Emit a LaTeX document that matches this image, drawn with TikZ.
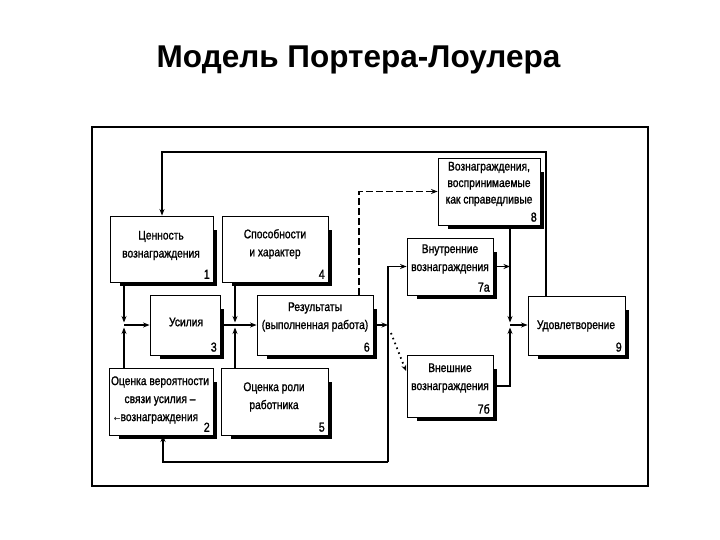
\documentclass[tikz,border=0pt]{standalone}
\usepackage{fontspec}
\setmainfont{Liberation Sans}
\newfontfamily\boxfont[FakeStretch=0.82,FakeBold=1.2]{Liberation Sans}
\newfontfamily\symfont{DejaVu Sans}
\usetikzlibrary{arrows.meta,calc}
\tikzset{
  box/.style={draw, line width=0.9pt, fill=white, inner sep=0pt},
  shadowfill/.style={fill=black},
  txt/.style={align=center, inner sep=0pt, font=\boxfont\fontsize{12.5}{18}\selectfont},
  num/.style={anchor=south east, inner sep=3.5pt, font=\boxfont\fontsize{13}{14}\selectfont},
  conn/.style={line width=1.1pt},
  arr/.style={conn, -{Stealth[length=6.5pt,width=5pt]}},
  dashconn/.style={arr, dash pattern=on 7pt off 3pt},
  dotconn/.style={line width=1.8pt, dash pattern=on 1.6pt off 3.6pt, -{Stealth[length=6pt,width=5pt]}},
  titlestyle/.style={font=\bfseries\fontsize{31.5}{36}\selectfont, inner sep=0pt}
}
\newcommand\mkbox[6]{%
  \fill[shadowfill] ({#2+10},{#3+14}) rectangle ({#4+4},{#5+4});
  \node[box, minimum width={#4-#2}, minimum height={#5-#3}] (#1) at ({(#2+#4)/2},{(#3+#5)/2}) {};
  \node[num] (#1n) at (#1.south east) {#6};
}
\begin{document}
\begin{tikzpicture}[x=1pt,y=-1pt]
\useasboundingbox (0,0) rectangle (720,540);
\node[titlestyle, anchor=base] (title) at (358.5,68) {Модель Портера-Лоулера};
\draw[line width=1.4pt] (92,127) rectangle (648,486);

% boxes
\mkbox{b1}{110}{216}{213}{282}{1}
\mkbox{b4}{222}{216}{328}{282}{4}
\mkbox{b3}{150}{295}{220}{355}{3}
\mkbox{b6}{257}{295}{373}{355}{6}
\mkbox{b2}{109}{368}{213}{435}{2}
\mkbox{b5}{221}{368}{328}{435}{5}
\mkbox{b8}{438}{158}{540}{225}{8}
\mkbox{b7a}{407}{238}{493}{295}{7а}
\mkbox{b7b}{407}{355}{493}{417}{7б}
\mkbox{b9}{528}{296}{625}{355}{9}

% texts
\node[txt] (t1) at (161,245.5) {Ценность\\вознаграждения};
\node[txt] (t4) at (275,244) {Способности\\и характер};
\node[txt] (t3) at (186,322) {Усилия};
\node[txt] (t6) at (315,317) {Результаты\\(выполненная работа)};
\node[txt] (t2) at (160,400) {Оценка вероятности\\связи усилия –\\{\symfont\fontsize{8}{8}\selectfont ←}вознаграждения\hspace*{8pt}};
\node[txt] (t5) at (274,397) {Оценка роли\\работника};
\node[txt, font=\boxfont\fontsize{12.5}{16.5}\selectfont] (t8) at (489,184) {Вознаграждения,\\воспринимаемые\\как справедливые};
\node[txt] (t7a) at (450,259) {Внутренние\\вознаграждения};
\node[txt] (t7b) at (450,378) {Внешние\\вознаграждения};
\node[txt] (t9) at (576,326) {Удовлетворение};

% junction coordinates
\coordinate (jL) at (124,325);
\coordinate (jLt) at (124,322.5);
\coordinate (jLb) at (124,327.5);
\coordinate (jM) at (235,325);
\coordinate (jMt) at (235,322.5);
\coordinate (jMb) at (235,327.5);
\coordinate (jR) at (388,325);
\coordinate (jS) at (510,325);
\coordinate (jSt) at (510,322.5);
\coordinate (jSb) at (510,327.5);
\coordinate (fR) at (546,152);
\coordinate (fL) at (162,152);
\coordinate (dX) at (359,194);
\coordinate (cB) at (388,462);
\coordinate (cBL) at (163,462);
\coordinate (dotS) at (391,333);
\coordinate (dotE) at (406,371);

% left junction
\draw[arr] (b1.south -| jL) -- (jLt);
\draw[arr] (b2.north -| jL) -- (jLb);
\draw[arr] (jL) -- (jL -| b3.west);
% middle junction
\draw[conn] (b3.east |- jM) -- (jM);
\draw[arr] (jM) -- (jM -| b6.west);
\draw[arr] (b4.south -| jM) -- (jMt);
\draw[arr] (b5.north -| jM) -- (jMb);
% results to rewards
\draw[arr] (b6.east |- jR) -- (jR);
\draw[arr] (cB) |- (b7a.west);
\draw[arr] (cB) -- (cBL) -- (b2.south -| cBL);
\draw[dotconn] (dotS) -- (dotE);
\draw[dashconn] (b6.north -| dX) |- (b8.west);
% right junction
\draw[arr] (b7a.east) -- (b7a.east -| jS);
\draw[arr] (b8.south -| jS) -- (jSt);
\draw[arr] (b7b.east) -| (jSb);
\draw[arr] (jS) -- (jS -| b9.west);
% feedback top
\draw[arr] (b9.north -| fR) -- (fR) -- (fL) -- (b1.north -| fL);
\end{tikzpicture}
\end{document}
